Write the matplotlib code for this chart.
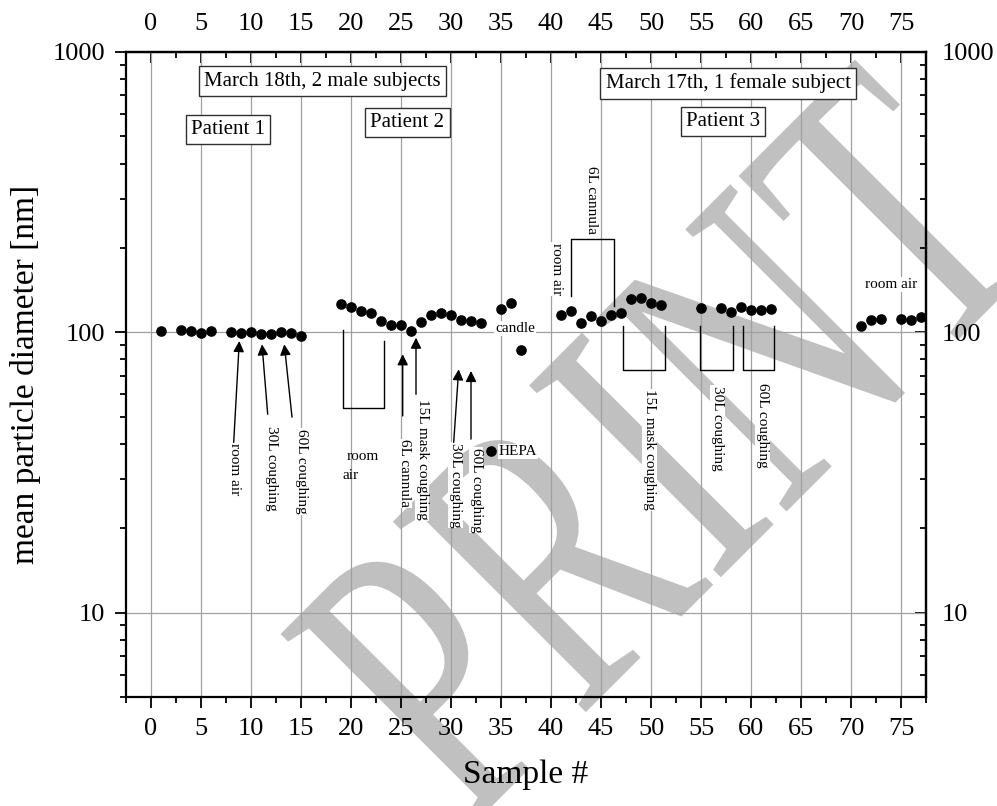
import matplotlib
matplotlib.use('Agg')
import matplotlib.pyplot as plt
from matplotlib.ticker import MultipleLocator, LogLocator, NullFormatter, FixedLocator, FixedFormatter
from matplotlib.textpath import TextPath
from matplotlib.font_manager import FontProperties
from matplotlib.patches import PathPatch
from matplotlib.transforms import Affine2D

plt.rcParams['font.family'] = ['Liberation Serif', 'DejaVu Serif']

# Sample number / mean particle diameter [nm]
p1_sample = [1, 3, 4, 5, 6, 8, 9, 10, 11, 12, 13, 14, 15]
p1_diam = [100.8, 101.7, 101.4, 99.5, 101.4, 100, 99.2, 100, 98.4, 98.6, 100, 99.2, 97.3]

p2_sample = [19, 20, 21, 22, 23, 24, 25, 26, 27, 28, 29, 30, 31, 32, 33, 34, 35, 36, 37]
p2_diam = [126.5, 123, 119.5, 117, 110, 106, 106, 101.4, 109, 115, 117, 115, 111, 110, 108,
           37.6, 121, 127.5, 86.5]

p3_sample = [41, 42, 43, 44, 45, 46, 47, 48, 49, 50, 51, 55, 57, 58, 59, 60, 61, 62,
             71, 72, 73, 75, 76, 77]
p3_diam = [115.3, 119, 108, 114, 109.5, 115, 117.5, 132, 133, 127, 125.5, 121.8, 121.8, 118.5,
           123.5, 120.5, 120.5, 121, 105, 110.6, 111.6, 112, 110.6, 113.7]

x_ticks = list(range(0, 80, 5))
y_ticks = [10, 100, 1000]

W, H = 997, 806
fig = plt.figure(figsize=(W / 100, H / 100), dpi=100)

# watermark: only the "...PRINT" part of the page-wide PREPRINT falls inside the figure
fp = FontProperties(family='Liberation Serif')
wm = TextPath((0, 0), 'PRINT', size=1, prop=fp)
n_right = TextPath((0, 0), 'PRIN', size=1, prop=fp).get_extents().x1
em, squeeze = 414, 0.69
trans = Affine2D().translate(-n_right, 0).scale(em * squeeze, em).rotate_deg(45).translate(922, H - 376)
fig.add_artist(PathPatch(wm, transform=trans, fc='#c0c0c0', ec='none', zorder=-1))

ax = fig.add_axes([126 / W, 1 - 697 / H, 800 / W, 645 / H])
ax.patch.set_alpha(0)

ax.scatter(p1_sample + p2_sample + p3_sample, p1_diam + p2_diam + p3_diam,
           s=44, color='black', zorder=5, clip_on=False)

ax.set_yscale('log')
ax.set_xlim(-2.5, 77.5)
ax.set_ylim(5, 1000)
ax.xaxis.set_major_locator(FixedLocator(x_ticks))
ax.xaxis.set_minor_locator(MultipleLocator(2.5))
ax.yaxis.set_major_locator(FixedLocator(y_ticks))
ax.yaxis.set_major_formatter(FixedFormatter([str(v) for v in y_ticks]))
ax.yaxis.set_minor_locator(LogLocator(subs=range(2, 10)))
ax.yaxis.set_minor_formatter(NullFormatter())

ax.grid(True, which='major', color='#a0a0a0', lw=0.9, zorder=0)
for s in ax.spines.values():
    s.set_linewidth(1.6)

ax.tick_params(which='major', direction='out', length=8, width=1.3, labelsize=19, pad=7)
ax.tick_params(which='minor', direction='out', length=4.5, width=1.3)

# top and right axes: inward ticks, labels outside
top = ax.secondary_xaxis('top')
top.xaxis.set_major_locator(FixedLocator(x_ticks))
top.xaxis.set_minor_locator(MultipleLocator(2.5))
top.tick_params(which='major', direction='in', length=8, width=1.3, labelsize=19, pad=12)
top.tick_params(which='minor', direction='in', length=4.5, width=1.3)
top.spines['top'].set_linewidth(1.6)

right = ax.secondary_yaxis('right')
right.yaxis.set_major_locator(FixedLocator(y_ticks))
right.yaxis.set_major_formatter(FixedFormatter([str(v) for v in y_ticks]))
right.yaxis.set_minor_locator(LogLocator(subs=range(2, 10)))
right.yaxis.set_minor_formatter(NullFormatter())
right.tick_params(which='major', direction='in', length=8, width=1.3, labelsize=19, pad=11)
right.tick_params(which='minor', direction='in', length=4.5, width=1.3)
right.spines['right'].set_linewidth(1.6)

ax.set_xlabel('Sample #', fontsize=24, labelpad=14)
ax.set_ylabel('mean particle diameter [nm]', fontsize=24, labelpad=8)

# group boxes
box = dict(boxstyle='square,pad=0.25', fc='white', ec='#303030', lw=1)
for x, y, t in [(17.13, 787, 'March 18th, 2 male subjects'), (7.7, 530, 'Patient 1'),
                (25.63, 561, 'Patient 2'), (57.7, 773, 'March 17th, 1 female subject'),
                (57.2, 565, 'Patient 3')]:
    ax.text(x, y, t, fontsize=15, ha='center', va='center', bbox=box, zorder=6)

# arrows
for head, tail in [((8.83, 93.1), (8.27, 40.5)), ((11.1, 90.6), (11.67, 51)),
                   ((13.33, 90.6), (14.1, 49.8)), ((25.17, 83.5), (25.17, 50.3)),
                   ((26.5, 95.7), (26.5, 60.1)), ((30.77, 73.8), (30.27, 40.5)),
                   ((32.0, 72.8), (32.0, 41.6))]:
    ax.annotate('', xy=head, xytext=tail,
                arrowprops=dict(arrowstyle='-|>', color='black', lw=1, mutation_scale=16,
                                shrinkA=0, shrinkB=0), zorder=4)

# brackets
for x0, x1, y0, y1, y2 in [(19.23, 23.33, 101.9, 53.6, 93.1), (42.0, 46.33, 134.7, 216, 124.1),
                           (47.17, 51.43, 105.3, 73.4, 105.3), (54.93, 58.17, 105.3, 73.4, 105.3),
                           (59.17, 62.33, 105.3, 73.4, 105.3)]:
    ax.plot([x0, x0, x1, x1], [y0, y1, y1, y2], color='black', lw=1, zorder=4)

# vertical labels
wb = dict(boxstyle='square,pad=0.05', fc='white', ec='none')
for x, y, t in [(8.3, 40.4, 'room air'), (12.0, 46.4, '30L coughing'), (15.0, 45.1, '60L coughing'),
                (25.33, 41.5, '6L cannula'), (27.1, 57.7, '15L mask coughing'),
                (30.43, 40.4, '30L coughing'), (32.5, 38.8, '60L coughing'),
                (40.57, 208.8, 'room air'), (44.0, 391.6, '6L cannula'),
                (49.83, 62.6, '15L mask coughing'), (56.67, 64.4, '30L coughing'),
                (61.17, 66.2, '60L coughing')]:
    ax.text(x, y, t, rotation=270, fontsize=11, ha='center', va='top', bbox=wb, zorder=3)

# horizontal labels
ax.text(21.18, 36.1, 'room', fontsize=11, ha='center', va='center', zorder=3)
ax.text(20.0, 30.9, 'air', fontsize=11, ha='center', va='center', zorder=3)
ax.text(34.8, 37.6, 'HEPA', fontsize=11, ha='left', va='center', bbox=wb, zorder=3)
ax.text(36.4, 103, 'candle', fontsize=11, ha='center', va='center', bbox=wb, zorder=3)
ax.text(74.0, 148, 'room air', fontsize=11, ha='center', va='center', bbox=wb, zorder=3)

fig.savefig('out.png', dpi=100)
